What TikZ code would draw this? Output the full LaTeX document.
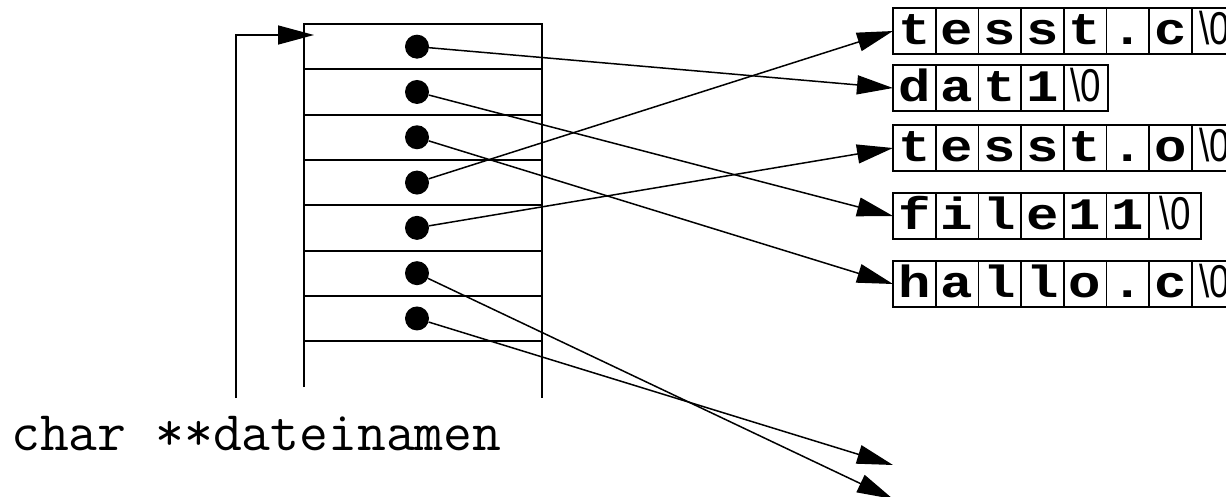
\documentclass[tikz,border=0pt]{standalone}
\usepackage{fontspec}
\usetikzlibrary{arrows.meta}
\newfontfamily\cellfont{Liberation Mono}[FakeStretch=1.2]
\newfontfamily\zerofont{Liberation Sans}
\newcommand\nulchar{\scalebox{0.8}[1]{\zerofont\mdseries\fontsize{46}{50}\selectfont\textbackslash 0}}
\begin{document}
\begin{tikzpicture}[x=1pt,y=-1pt,
  thinline/.style={line width=1.5pt},
  ptr/.style={thinline, -{Triangle[length=36pt,width=19pt]}},
  dot/.style={circle, fill=black, inner sep=0pt, minimum size=24pt},
  frame/.style={line width=2pt},
  cell/.style={draw, line width=1.8pt, minimum height=45.5pt, minimum width=42.7pt,
    inner sep=0pt, outer sep=0pt, text height=31pt, text depth=5pt,
    font=\cellfont\bfseries\fontsize{45}{50}\selectfont},
  zcell/.style={cell, anchor=west}
]
\useasboundingbox (0,0) rectangle (1226,496);
\clip (0,0) rectangle (1226,496);

% pointer array
\draw[frame] (304,387) -- (304,24) -- (542,24) -- (542,398);
\foreach \k in {1,...,7} {
  \draw[frame] (304,{24+45.3*\k}) -- (542,{24+45.3*\k});
  \node[dot] (d\k) at (417,{24+45.3*\k-22.65}) {};
}

% variable label and its pointer
\coordinate (lb) at (236,398);
\coordinate (lt) at (314,35);
\draw[ptr] (lb) |- (lt);
\node[anchor=base west, inner sep=0pt, font=\ttfamily\fontsize{56}{60}\selectfont] (lbl) at (11,450) {char **dateinamen};

% strings
\foreach \c [count=\i from 0] in {t,e,s,s,t,.,c}
  \node[cell] (r1-\i) at ({914.35+42.7*\i},31) {\c};
\node[zcell, minimum width=46pt] (r1-z) at (r1-6.east) {\nulchar};

\foreach \c [count=\i from 0] in {d,a,t,1}
  \node[cell] (r2-\i) at ({914.35+42.7*\i},88) {\c};
\node[zcell, minimum width=44pt] (r2-z) at (r2-3.east) {\nulchar};

\foreach \c [count=\i from 0] in {t,e,s,s,t,.,o}
  \node[cell] (r3-\i) at ({914.35+42.7*\i},148) {\c};
\node[zcell, minimum width=46pt] (r3-z) at (r3-6.east) {\nulchar};

\foreach \c [count=\i from 0] in {f,i,l,e,1,1}
  \node[cell] (r4-\i) at ({914.35+42.7*\i},216) {\c};
\node[zcell, minimum width=52pt] (r4-z) at (r4-5.east) {\nulchar};

\foreach \c [count=\i from 0] in {h,a,l,l,o,.,c}
  \node[cell] (r5-\i) at ({914.35+42.7*\i},284) {\c};
\node[zcell, minimum width=46pt] (r5-z) at (r5-6.east) {\nulchar};

% pointers
\coordinate (e1) at (893,465);
\coordinate (e2) at (893,499);
\draw[ptr] (d1) -- (r2-0.west);
\draw[ptr] (d2) -- (r4-0.west);
\draw[ptr] (d3) -- (r5-0.west);
\draw[ptr] (d4) -- (r1-0.west);
\draw[ptr] (d5) -- (r3-0.west);
\draw[ptr] (d6) -- (e2);
\draw[ptr] (d7) -- (e1);
\end{tikzpicture}
\end{document}
